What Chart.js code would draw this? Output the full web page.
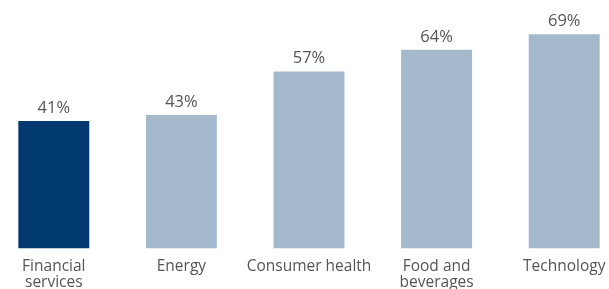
<!DOCTYPE html>
<html lang="en">
<head>
    <meta charset="UTF-8">
    <title>Share by sector</title>
    <script src="https://cdn.jsdelivr.net/npm/chart.js@4/dist/chart.umd.min.js"></script>
    <style>
        html, body { margin: 0; padding: 0; background: #fff; overflow: hidden; }
        #wrap { position: absolute; left: -10px; top: 0; width: 638px; height: 301px; }
    </style>
</head>
<body>
    <div id="wrap"><canvas id="sectorChart"></canvas></div>

    <script>
        // Chart data
        const categories = [['Financial', 'services'], 'Energy', 'Consumer health', ['Food and', 'beverages'], 'Technology'];
        const values = [41, 43, 57, 64, 69];
        const barColors = ['#003a70', '#a5b9cd', '#a5b9cd', '#a5b9cd', '#a5b9cd'];

        // Draws the percentage above each bar
        const valueLabels = {
            id: 'valueLabels',
            afterDatasetsDraw(chart) {
                const ctx = chart.ctx;
                const meta = chart.getDatasetMeta(0);
                ctx.save();
                ctx.font = '16.5px "Open Sans", sans-serif';
                ctx.fillStyle = '#555555';
                ctx.textAlign = 'center';
                ctx.textBaseline = 'alphabetic';
                meta.data.forEach((bar, i) => {
                    ctx.fillText(values[i] + '%', bar.x, bar.y - 8);
                });
                ctx.restore();
            }
        };

        new Chart(document.getElementById('sectorChart'), {
            type: 'bar',
            data: {
                labels: categories,
                datasets: [{
                    data: values,
                    backgroundColor: barColors,
                    borderWidth: 0,
                    categoryPercentage: 1,
                    barPercentage: 0.556
                }]
            },
            options: {
                responsive: true,
                maintainAspectRatio: false,
                animation: false,
                layout: { padding: 0 },
                plugins: {
                    legend: { display: false },
                    tooltip: { enabled: false }
                },
                scales: {
                    x: {
                        grid: { display: false, drawTicks: false },
                        border: { display: false },
                        ticks: {
                            color: '#555555',
                            padding: 10,
                            maxRotation: 0,
                            autoSkip: false,
                            font: { family: '"Open Sans", sans-serif', size: 15.5, lineHeight: 1.05 }
                        }
                    },
                    y: {
                        display: false,
                        min: 0,
                        max: 80
                    }
                }
            },
            plugins: [valueLabels]
        });
    </script>
</body>
</html>
